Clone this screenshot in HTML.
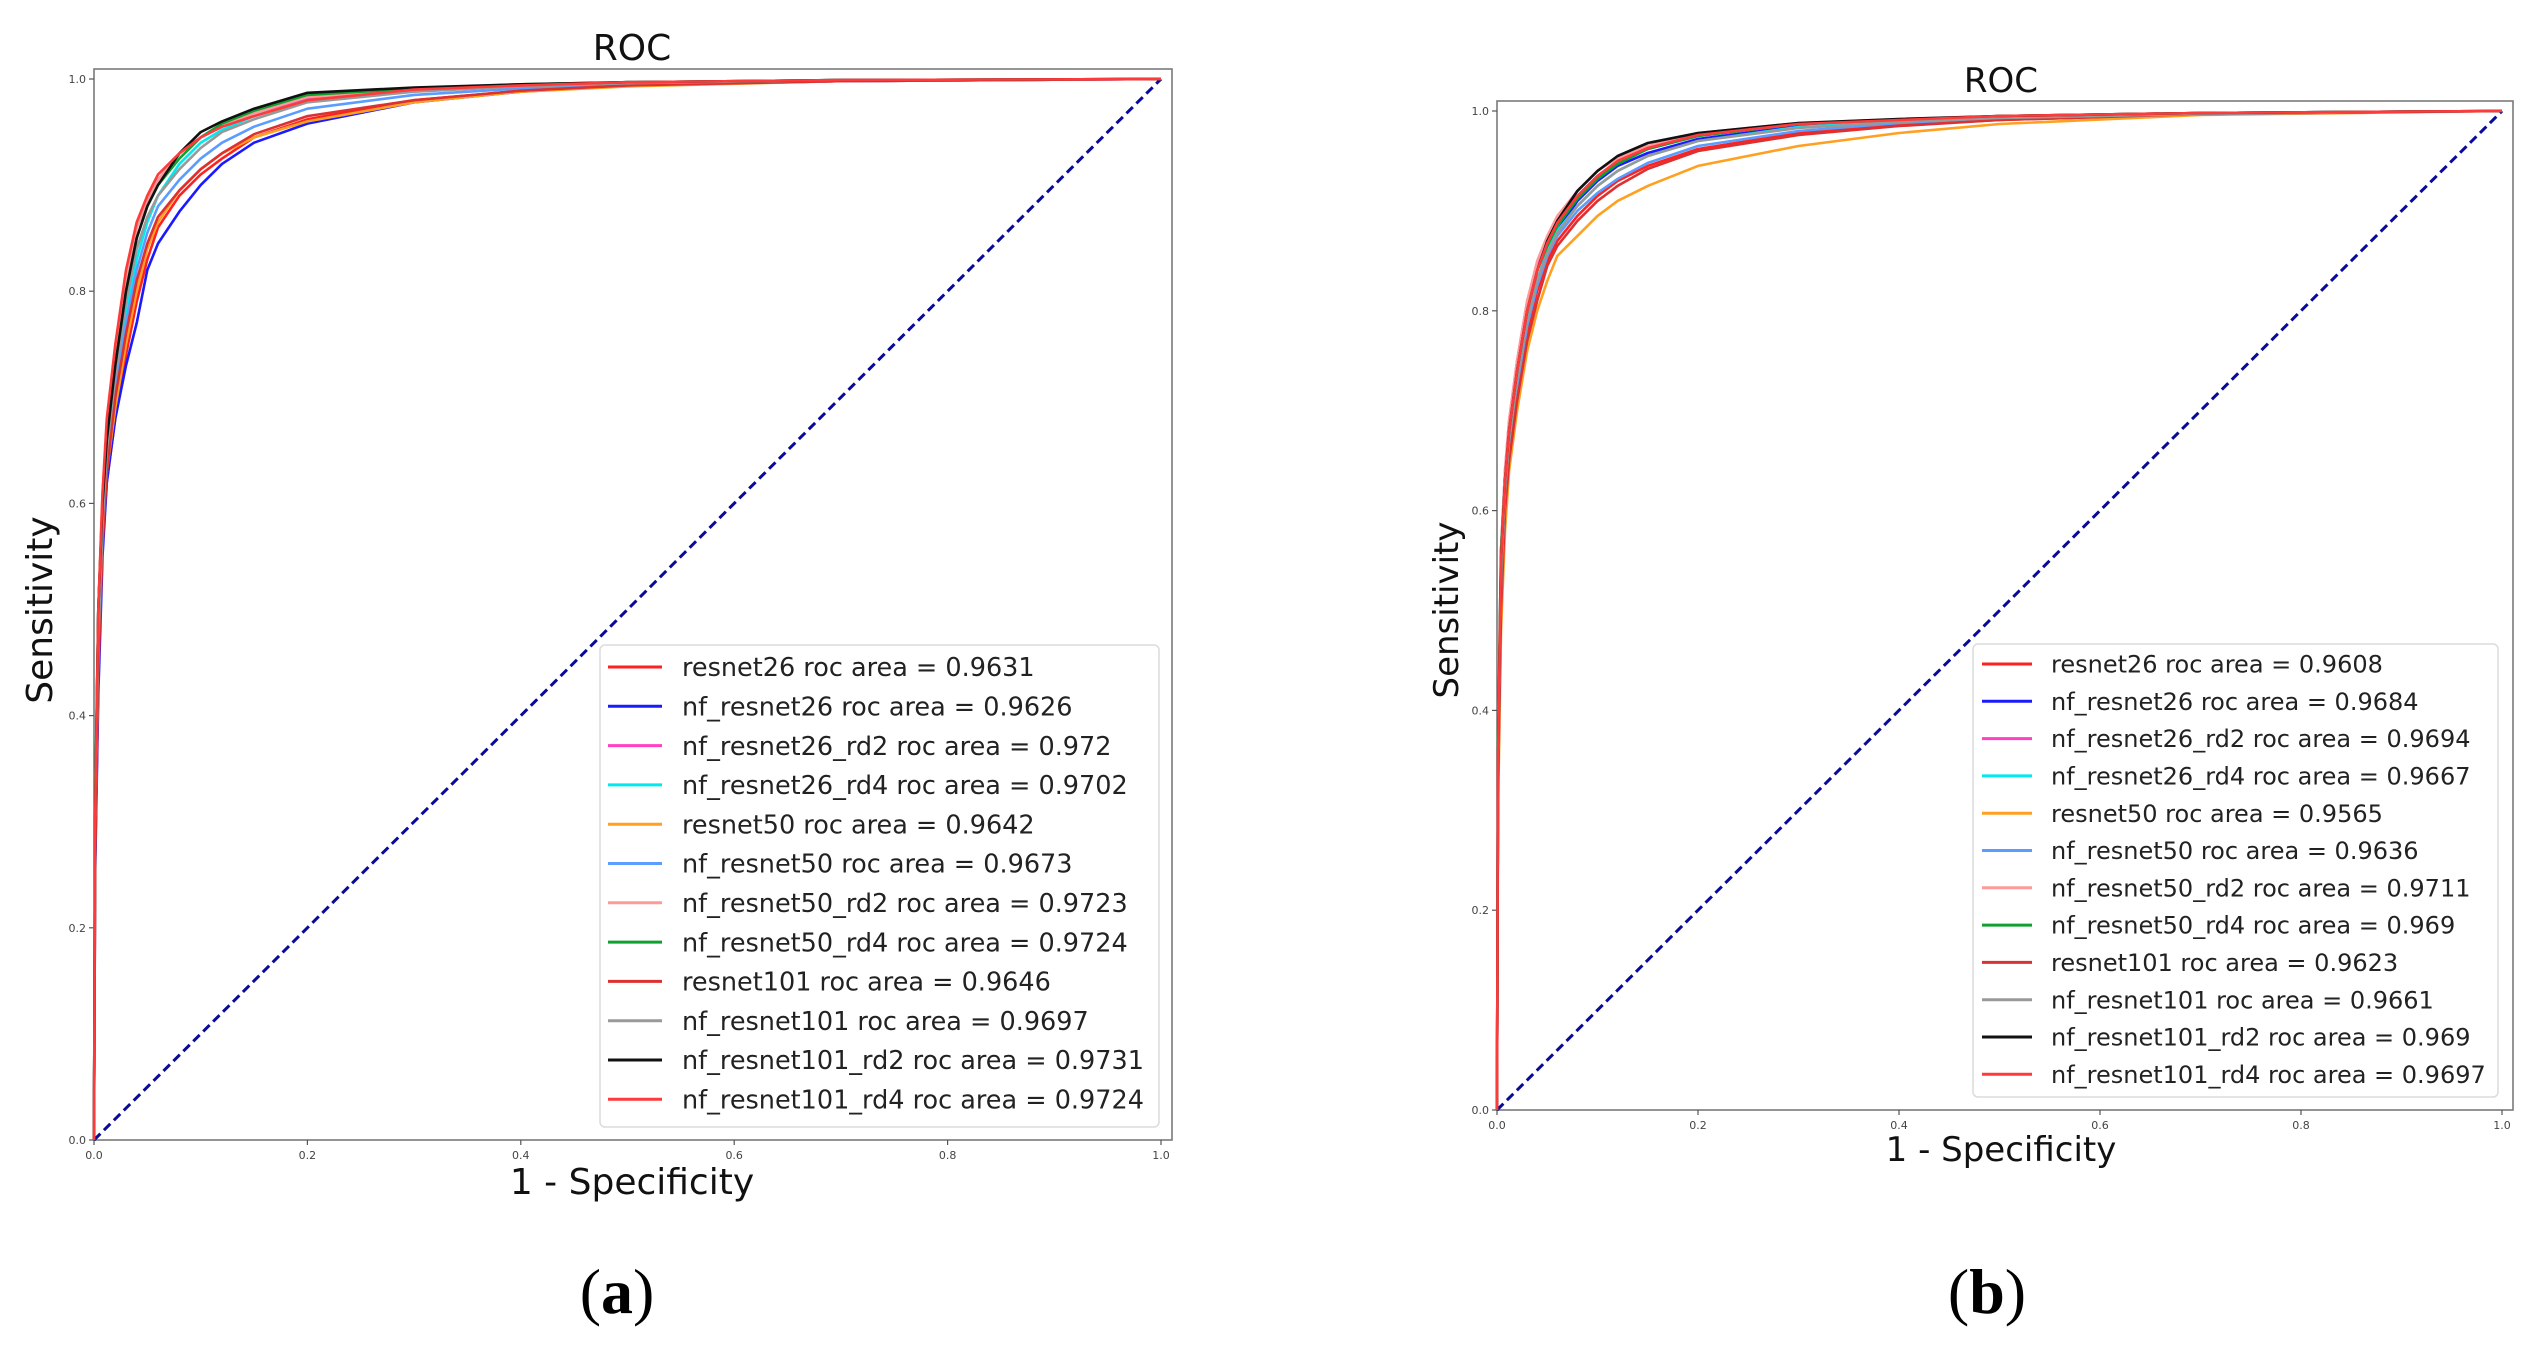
<!DOCTYPE html>
<html><head><meta charset="utf-8"><style>
html,body{margin:0;padding:0;background:#fff;}
svg{display:block;}
text{font-family:"DejaVu Sans","Liberation Sans",sans-serif;}
text.cap{font-family:"Liberation Serif",serif;}
</style></head><body>
<svg id="root" xmlns="http://www.w3.org/2000/svg" width="2543" height="1348" viewBox="0 0 2543 1348">
<rect width="2543" height="1348" fill="#fff"/>
</svg>
<script>
const fprGrid=[0,0.001,0.004,0.008,0.012,0.02,0.03,0.04,0.05,0.06,0.08,0.1,0.12,0.15,0.2,0.3,0.4,0.5,0.7,1];
const tickValues=[0,0.2,0.4,0.6,0.8,1.0];
const tickLabels=["0.0","0.2","0.4","0.6","0.8","1.0"];
const modelNames=["resnet26","nf_resnet26","nf_resnet26_rd2","nf_resnet26_rd4","resnet50","nf_resnet50","nf_resnet50_rd2","nf_resnet50_rd4","resnet101","nf_resnet101","nf_resnet101_rd2","nf_resnet101_rd4"];
const modelColors=["#ff2020","#1a1aff","#ff40c0","#00e8f0","#ffa020","#5a9cff","#ff9a9a","#10a030","#dd3030","#999999","#111111","#ff3a3a"];
const aucA=["0.9631","0.9626","0.972","0.9702","0.9642","0.9673","0.9723","0.9724","0.9646","0.9697","0.9731","0.9724"];
const aucB=["0.9608","0.9684","0.9694","0.9667","0.9565","0.9636","0.9711","0.969","0.9623","0.9661","0.969","0.9697"];
// chart (a) TPR values
const a_resnet26=[0,0.26,0.44,0.56,0.62,0.68,0.74,0.79,0.83,0.86,0.89,0.91,0.925,0.945,0.962,0.98,0.989,0.994,0.998,1];
const a_nf26=[0,0.25,0.42,0.55,0.62,0.68,0.73,0.77,0.82,0.845,0.875,0.90,0.92,0.94,0.958,0.978,0.988,0.994,0.998,1];
const a_nf26rd2=[0,0.3,0.5,0.6,0.67,0.74,0.81,0.86,0.885,0.905,0.93,0.945,0.955,0.968,0.982,0.99,0.994,0.997,0.999,1];
const a_nf26rd4=[0,0.3,0.48,0.58,0.65,0.72,0.78,0.83,0.865,0.89,0.92,0.94,0.952,0.965,0.98,0.99,0.994,0.997,0.999,1];
const a_resnet50=[0,0.27,0.45,0.57,0.63,0.69,0.75,0.8,0.84,0.865,0.895,0.915,0.93,0.945,0.96,0.978,0.988,0.993,0.998,1];
const a_nf50=[0,0.28,0.46,0.58,0.64,0.71,0.77,0.82,0.855,0.88,0.905,0.925,0.94,0.955,0.972,0.985,0.991,0.995,0.998,1];
const a_nf50rd2=[0,0.31,0.5,0.61,0.67,0.74,0.81,0.86,0.885,0.905,0.93,0.945,0.957,0.968,0.983,0.99,0.994,0.997,0.999,1];
const a_nf50rd4=[0,0.32,0.5,0.6,0.66,0.73,0.8,0.85,0.88,0.9,0.925,0.945,0.958,0.97,0.985,0.991,0.995,0.997,0.999,1];
const a_resnet101=[0,0.26,0.44,0.56,0.63,0.7,0.76,0.81,0.845,0.87,0.895,0.915,0.93,0.948,0.965,0.98,0.989,0.994,0.998,1];
const a_nf101=[0,0.29,0.47,0.58,0.65,0.72,0.79,0.84,0.87,0.89,0.915,0.935,0.95,0.962,0.978,0.988,0.993,0.996,0.999,1];
const a_nf101rd2=[0,0.3,0.5,0.6,0.66,0.73,0.8,0.85,0.88,0.9,0.93,0.95,0.96,0.972,0.987,0.992,0.995,0.997,0.999,1];
const a_nf101rd4=[0,0.3,0.5,0.61,0.68,0.75,0.82,0.865,0.89,0.91,0.93,0.945,0.955,0.965,0.98,0.99,0.994,0.997,0.999,1];
// chart (b) TPR values
const b_resnet26=[0,0.33,0.52,0.61,0.66,0.72,0.78,0.82,0.85,0.87,0.895,0.915,0.93,0.945,0.962,0.978,0.986,0.991,0.997,1];
const b_nf26=[0,0.34,0.54,0.62,0.67,0.73,0.79,0.83,0.86,0.88,0.91,0.93,0.945,0.958,0.972,0.985,0.99,0.994,0.998,1];
const b_nf26rd2=[0,0.36,0.56,0.64,0.69,0.75,0.81,0.845,0.87,0.89,0.915,0.935,0.95,0.962,0.975,0.987,0.991,0.995,0.998,1];
const b_nf26rd4=[0,0.34,0.54,0.62,0.67,0.73,0.79,0.83,0.86,0.88,0.905,0.925,0.94,0.955,0.97,0.984,0.99,0.994,0.998,1];
const b_resnet50=[0,0.3,0.48,0.58,0.64,0.7,0.76,0.8,0.83,0.855,0.875,0.895,0.91,0.925,0.945,0.965,0.978,0.987,0.996,1];
const b_nf50=[0,0.33,0.52,0.61,0.66,0.72,0.785,0.825,0.855,0.875,0.9,0.918,0.932,0.948,0.965,0.98,0.988,0.993,0.997,1];
const b_nf50rd2=[0,0.36,0.56,0.64,0.69,0.75,0.81,0.85,0.875,0.895,0.92,0.94,0.953,0.965,0.978,0.988,0.992,0.995,0.998,1];
const b_nf50rd4=[0,0.37,0.56,0.63,0.68,0.74,0.8,0.84,0.865,0.885,0.912,0.932,0.947,0.962,0.975,0.987,0.991,0.995,0.998,1];
const b_resnet101=[0,0.32,0.5,0.6,0.65,0.71,0.77,0.81,0.845,0.865,0.89,0.91,0.925,0.942,0.96,0.976,0.985,0.991,0.997,1];
const b_nf101=[0,0.34,0.53,0.62,0.67,0.73,0.79,0.83,0.858,0.878,0.905,0.925,0.94,0.955,0.97,0.983,0.989,0.993,0.997,1];
const b_nf101rd2=[0,0.35,0.55,0.63,0.68,0.74,0.8,0.84,0.87,0.89,0.92,0.94,0.955,0.968,0.978,0.988,0.992,0.995,0.998,1];
const b_nf101rd4=[0,0.35,0.55,0.63,0.68,0.74,0.8,0.84,0.868,0.888,0.915,0.935,0.95,0.963,0.976,0.987,0.991,0.995,0.998,1];
const seriesA=[a_resnet26,a_nf26,a_nf26rd2,a_nf26rd4,a_resnet50,a_nf50,a_nf50rd2,a_nf50rd4,a_resnet101,a_nf101,a_nf101rd2,a_nf101rd4];
const seriesB=[b_resnet26,b_nf26,b_nf26rd2,b_nf26rd4,b_resnet50,b_nf50,b_nf50rd2,b_nf50rd4,b_resnet101,b_nf101,b_nf101rd2,b_nf101rd4];

const NS="http://www.w3.org/2000/svg";
const root=document.getElementById('root');
function mk(tag,attrs,parent){const e=document.createElementNS(NS,tag);for(const k in attrs)e.setAttribute(k,attrs[k]);(parent||root).appendChild(e);return e;}

function drawChart(id,L,series,aucs){
  const g=mk('g',{});
  
  
  const sx=v=>L.x0+(L.x1-L.x0)*v, sy=v=>L.y0-(L.y0-L.y1)*v;
  const t=mk('text',{x:L.titleX,y:L.titleY,'font-size':L.titleFs,'text-anchor':'middle',fill:'#111'},g);t.textContent='ROC';
  
  
  const fr=mk('rect',{x:L.fl,y:L.ft,width:L.fr-L.fl,height:L.y0-L.ft,fill:'none',stroke:'#7a7a7a','stroke-width':1.6},g);
  
  
  tickValues.forEach((v,i)=>{
    mk('line',{x1:sx(v),x2:sx(v),y1:L.y0,y2:L.y0+5,stroke:'#555','stroke-width':1.2},g);
    const xt=mk('text',{x:sx(v),y:L.y0+19,'font-size':11,'text-anchor':'middle',fill:'#444'},g);xt.textContent=tickLabels[i];
    
    
    mk('line',{x1:L.fl-5,x2:L.fl,y1:sy(v),y2:sy(v),stroke:'#555','stroke-width':1.2},g);
    const yt=mk('text',{x:L.fl-8,y:sy(v)+4,'font-size':11,'text-anchor':'end',fill:'#444'},g);yt.textContent=tickLabels[i];
    
    
  });
  const d=mk('line',{x1:sx(0),y1:sy(0),x2:sx(1),y2:sy(1),stroke:'#0a0a9a','stroke-width':3,'stroke-dasharray':'9 5'},g);
  
  
  series.forEach((arr,i)=>{
    const pts=arr.map((v,j)=>sx(fprGrid[j]).toFixed(1)+','+sy(v).toFixed(1)).join(' ');
    const p=mk('polyline',{points:pts,fill:'none',stroke:modelColors[i],'stroke-width':2.6,'stroke-linejoin':'round'},g);
    
    
  });
  const xl=mk('text',{x:L.xlX,y:L.xlY,'font-size':L.labFs,'text-anchor':'middle',fill:'#111'},g);xl.textContent='1 - Specificity';
  
  
  const yl=mk('text',{x:0,y:0,'font-size':L.labFs,'text-anchor':'middle',fill:'#111',transform:`translate(${L.ylX},${L.ylY}) rotate(-90)`},g);yl.textContent='Sensitivity';
  
  
  const lg=mk('g',{},g);
  
  
  mk('rect',{x:L.lgL,y:L.lgT,width:L.lgR-L.lgL,height:L.lgB-L.lgT,rx:5,fill:'#fff','fill-opacity':0.9,stroke:'#dcdcdc','stroke-width':1.5},lg);
  modelNames.forEach((n,i)=>{
    const y=L.row0+L.rowH*i;
    const e=mk('g',{},lg);
    
    
    mk('line',{x1:L.s0,x2:L.s1,y1:y,y2:y,stroke:modelColors[i],'stroke-width':3},e);
    const tx=mk('text',{x:L.tx,y:y+L.lgFs*0.36,'font-size':L.lgFs,fill:'#222'},e);tx.textContent=n+' roc area = '+aucs[i];
  });
  const c=mk('text',{x:L.capX,y:1313,'font-size':64,'text-anchor':'middle',fill:'#000','class':'cap'},g);
  
  
  c.innerHTML='(<tspan font-weight="bold">'+L.cap+'</tspan>)';
}

drawChart('roc-chart-a',{x0:94,x1:1161,y0:1140,y1:79,fl:94,fr:1172,ft:69,titleX:632,titleY:60,titleFs:36,labFs:36,
  xlX:632,xlY:1194,ylX:52,ylY:610,lgL:600,lgT:645,lgR:1159,lgB:1127,row0:667,rowH:39.3,s0:608,s1:662,tx:682,lgFs:25.5,capX:617,cap:'a'},seriesA,aucA);
drawChart('roc-chart-b',{x0:1497,x1:2502,y0:1110,y1:111,fl:1497,fr:2513,ft:101,titleX:2001,titleY:92,titleFs:34,labFs:34,
  xlX:2001,xlY:1161,ylX:1458,ylY:610,lgL:1973,lgT:644,lgR:2498,lgB:1097,row0:664,rowH:37.3,s0:1982,s1:2032,tx:2051,lgFs:24,capX:1987,cap:'b'},seriesB,aucB);
</script>
</body></html>
